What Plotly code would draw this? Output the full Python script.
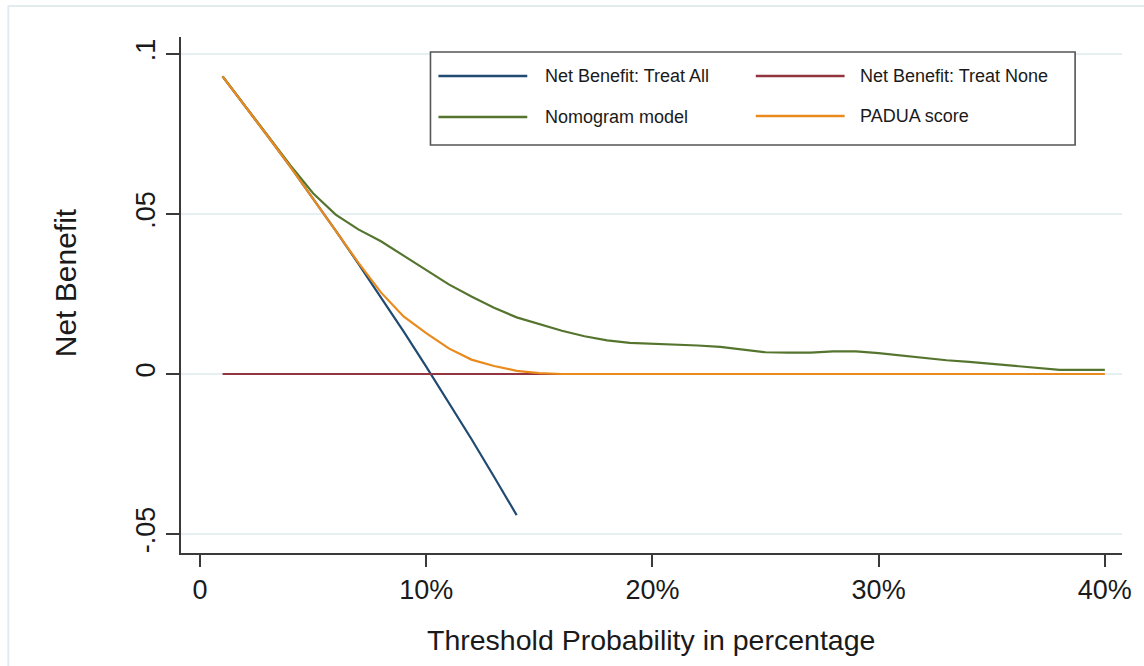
import plotly.graph_objects as go

# ---------------- data ----------------
threshold_all = [1, 2, 3, 4, 5, 6, 7, 8, 9, 10, 11, 12, 13, 14]
nb_treat_all = [0.0930, 0.0838, 0.0743, 0.0647, 0.0548, 0.0448, 0.0345, 0.0240,
                0.0133, 0.0023, -0.0089, -0.0203, -0.0321, -0.0441]

threshold_none = [1, 16]
nb_treat_none = [0.0, 0.0]

threshold_model = list(range(1, 41))
nb_nomogram = [0.0930, 0.0838, 0.0743, 0.0652, 0.0565, 0.0498, 0.0452, 0.0415,
               0.0370, 0.0325, 0.0280, 0.0242, 0.0207, 0.0177, 0.0155, 0.0135,
               0.0118, 0.0105, 0.0097, 0.0095, 0.0093, 0.0089, 0.0085, 0.0076,
               0.0068, 0.0067, 0.0067, 0.0071, 0.0071, 0.0065, 0.0058, 0.0049,
               0.0043, 0.0038, 0.0032, 0.0027, 0.0020, 0.0013, 0.0013, 0.0013]
nb_padua = [0.0930, 0.0838, 0.0743, 0.0647, 0.0548, 0.0448, 0.0348, 0.0255,
            0.0180, 0.0128, 0.0080, 0.0045, 0.0025, 0.0010, 0.0003, 0.0,
            0.0, 0.0, 0.0, 0.0, 0.0, 0.0, 0.0, 0.0, 0.0, 0.0, 0.0, 0.0,
            0.0, 0.0, 0.0, 0.0, 0.0, 0.0, 0.0, 0.0, 0.0, 0.0, 0.0, 0.0]

x_tick_vals = [0, 10, 20, 30, 40]
x_tick_text = ["0", "10%", "20%", "30%", "40%"]
y_tick_vals = [-0.05, 0, 0.05, 0.1]
y_tick_text = ["-.05", "0", ".05", ".1"]

series_names = ["Net Benefit: Treat All", "Net Benefit: Treat None",
                "Nomogram model", "PADUA score"]
series_colors = ["#1f4a72", "#92353f", "#55752f", "#ea8a1c"]

# ---------------- layout geometry ----------------
W_FIG, H_FIG = 1144, 666
L, R, T, B = 181, 1124, 37, 553
PW, PH = R - L, B - T


def px(x):
    return (x - L) / PW


def py(y):
    return (B - y) / PH


FONT = "Liberation Sans, Arial, Helvetica, sans-serif"
TXT = "#1a1a1a"

fig = go.Figure()
data = [(threshold_all, nb_treat_all), (threshold_none, nb_treat_none),
        (threshold_model, nb_nomogram), (threshold_model, nb_padua)]
for (xs, ys), name, col in zip(data, series_names, series_colors):
    fig.add_trace(go.Scatter(x=xs, y=ys, mode="lines", name=name,
                             line=dict(color=col, width=2.2),
                             showlegend=False))

shapes = []
annotations = []

# outer light frame
shapes.append(dict(type="rect", xref="paper", yref="paper",
                   x0=px(8), x1=px(1150), y0=py(672), y1=py(6),
                   line=dict(color="#e2ecee", width=2), layer="below"))

# legend box
shapes.append(dict(type="rect", xref="paper", yref="paper",
                   x0=px(431), x1=px(1077), y0=py(145), y1=py(52),
                   line=dict(color="#555555", width=1.6),
                   fillcolor="white", layer="above"))
leg_pos = [(439, 528, 544, 76), (757, 846, 859, 76),
           (439, 528, 544, 117), (757, 846, 859, 116)]
for (x0, x1, xt, yy), name, col in zip(leg_pos, series_names, series_colors):
    shapes.append(dict(type="line", xref="paper", yref="paper",
                       x0=px(x0), x1=px(x1), y0=py(yy), y1=py(yy),
                       line=dict(color=col, width=2.4), layer="above"))
    annotations.append(dict(xref="paper", yref="paper", x=px(xt), y=py(yy),
                            text=name, showarrow=False, xanchor="left",
                            yanchor="middle",
                            font=dict(family=FONT, size=18, color=TXT)))

# y axis title
annotations.append(dict(xref="paper", yref="paper", x=px(65), y=py(283),
                        text="Net Benefit", showarrow=False, textangle=-90,
                        xanchor="center", yanchor="middle",
                        font=dict(family=FONT, size=30, color=TXT)))
# x axis title
annotations.append(dict(xref="paper", yref="paper", x=px(652), y=py(640),
                        text="Threshold Probability in percentage",
                        showarrow=False, xanchor="center", yanchor="middle",
                        font=dict(family=FONT, size=28.5, color=TXT)))

x_per_px = 10 / 226.7
y_per_px = 0.05 / 160

fig.update_layout(
    width=W_FIG, height=H_FIG,
    margin=dict(l=L, r=W_FIG - R, t=T, b=H_FIG - B),
    paper_bgcolor="white", plot_bgcolor="white",
    showlegend=False,
    shapes=shapes, annotations=annotations,
    xaxis=dict(range=[(L - 200) * x_per_px, (R - 200) * x_per_px],
               tickvals=x_tick_vals, ticktext=x_tick_text,
               showgrid=False, zeroline=False,
               showline=True, linecolor="#3a3a3a", linewidth=1.6,
               ticks="outside", ticklen=12, tickwidth=1.5, tickcolor="#3a3a3a",
               tickfont=dict(family=FONT, size=27, color=TXT)),
    yaxis=dict(range=[(374 - B) * y_per_px, (374 - T) * y_per_px],
               tickvals=y_tick_vals, ticktext=y_tick_text, tickangle=-90,
               showgrid=True, gridcolor="#e6eff1", gridwidth=2,
               zeroline=False,
               showline=True, linecolor="#3a3a3a", linewidth=1.6,
               ticks="outside", ticklen=13, tickwidth=1.5, tickcolor="#3a3a3a",
               tickfont=dict(family=FONT, size=27, color=TXT)),
)

fig.write_html("out.html")
